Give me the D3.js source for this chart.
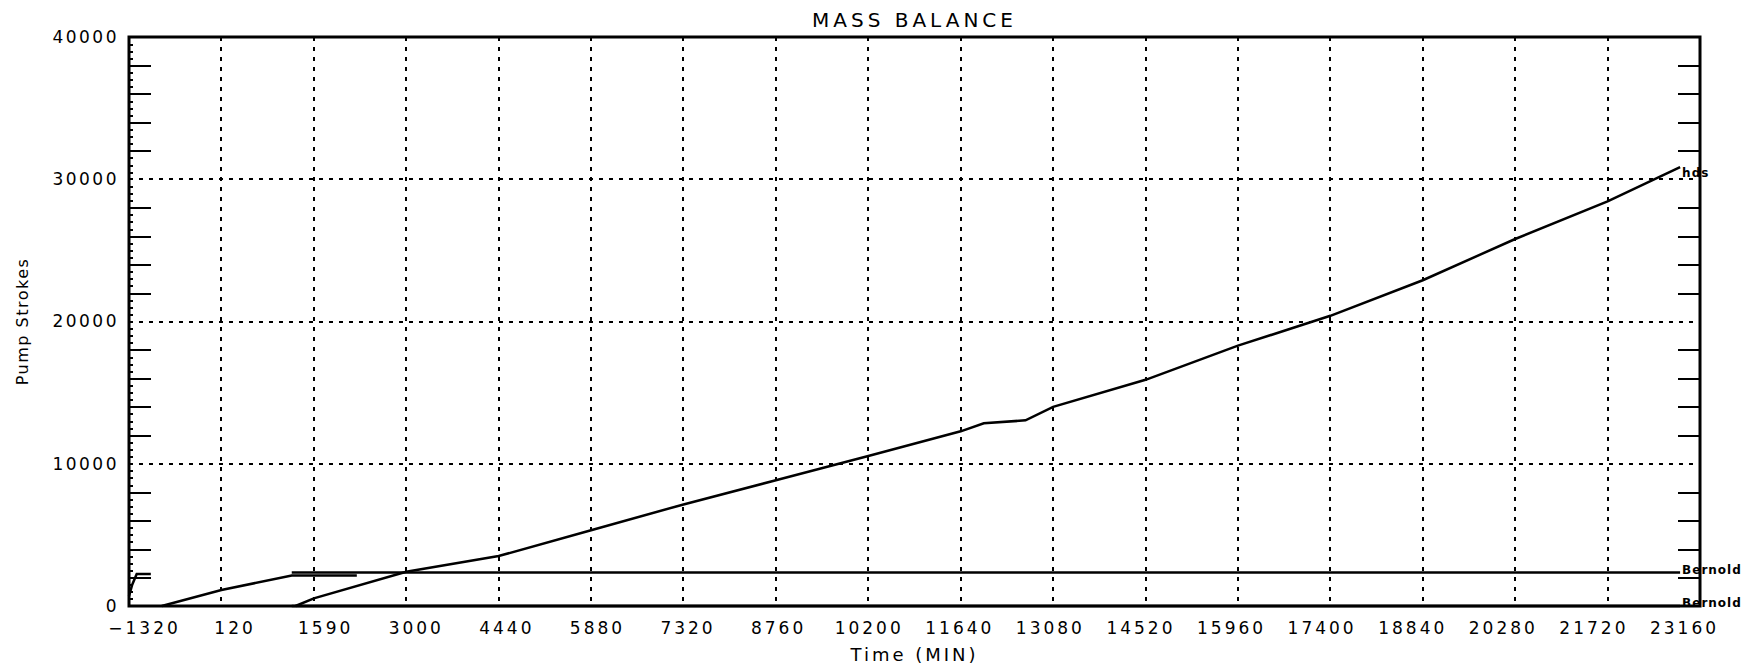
<!DOCTYPE html>
<html>
<head>
<meta charset="utf-8">
<script src="https://cdn.jsdelivr.net/npm/d3@7"></script>
<style>
  body { margin: 0; background: #fff; }
  text { font-family: "DejaVu Sans", sans-serif; fill: #000; }
</style>
</head>
<body>
<div id="chart"></div>
<script>
// x axis ticks (minutes) and their printed labels
var xTicks = [-1320, 120, 1560, 3000, 4440, 5880, 7320, 8760, 10200, 11640, 13080, 14520, 15960, 17400, 18840, 20280, 21720, 23160];
var xTickLabels = ["\u22121320", "120", "1590", "3000", "4440", "5880", "7320", "8760", "10200", "11640", "13080", "14520", "15960", "17400", "18840", "20280", "21720", "23160"];
var yTicks = [0, 10000, 20000, 30000, 40000];

// main pump stroke curve
var strokesTime = [1275, 1560, 3000, 4440, 5880, 7320, 8760, 10200, 11640, 12000, 12650, 13080, 14520, 15960, 17400, 18840, 20280, 21720, 22850];
var strokesValue = [0, 540, 2410, 3510, 5330, 7140, 8840, 10550, 12280, 12850, 13050, 14000, 15900, 18300, 20400, 22900, 25800, 28450, 30850];

// early curve that levels off
var earlyTime = [-810, 120, 1216, 2230];
var earlyValue = [0, 1120, 2150, 2150];

// short blip at the left edge
var blipTime = [-1320, -1270, -1200, -980];
var blipValue = [700, 1500, 2250, 2250];

// flat reference lines
var flatTime = [1216, 22850];
var flatUpper = [2350, 2350];
var flatLower = [0, 0];

var width = 1756, height = 668;
var svg = d3.select("#chart").append("svg")
    .attr("width", width)
    .attr("height", height);

var x = d3.scaleLinear().domain([-1320, 23160]).range([129, 1700]);
var y = d3.scaleLinear().domain([0, 40000]).range([606, 37]);
// labels under the x axis sit a little inside the end ticks
var xLabel = x.copy().range([129 + 15, 1700 - 16]);

// dotted grid
var gridX = xTicks.slice(1, -1);
svg.append("g").selectAll("line").data(gridX).join("line")
    .attr("x1", d => x(d)).attr("x2", d => x(d))
    .attr("y1", y(40000)).attr("y2", y(0))
    .attr("stroke", "#000").attr("stroke-width", 2)
    .attr("stroke-dasharray", "4,6")
    .attr("shape-rendering", "crispEdges");
svg.append("g").selectAll("line").data([10000, 20000, 30000]).join("line")
    .attr("x1", x(-1320)).attr("x2", x(23160))
    .attr("y1", d => y(d)).attr("y2", d => y(d))
    .attr("stroke", "#000").attr("stroke-width", 2)
    .attr("stroke-dasharray", "4,6")
    .attr("shape-rendering", "crispEdges");

// tick marks: long ones every 2000, short ones every 500
var majorY = d3.range(2000, 40000, 2000).filter(d => d % 10000 != 0);
var minorY = d3.range(500, 40000, 500).filter(d => d % 2000 != 0);

svg.append("g").attr("transform", "translate(" + x(-1320) + ",0)")
    .call(d3.axisRight(y).tickValues(majorY).tickSize(22).tickFormat(""))
    .call(g => g.select(".domain").remove());
svg.append("g").attr("transform", "translate(" + x(-1320) + ",0)")
    .call(d3.axisRight(y).tickValues(minorY).tickSize(4).tickFormat(""))
    .call(g => g.select(".domain").remove());
svg.append("g").attr("transform", "translate(" + x(23160) + ",0)")
    .call(d3.axisLeft(y).tickValues(majorY).tickSize(22).tickFormat(""))
    .call(g => g.select(".domain").remove());
svg.selectAll(".tick line").attr("stroke-width", 2).attr("shape-rendering", "crispEdges");

// y labels
var yAxis = svg.append("g").attr("transform", "translate(" + x(-1320) + ",0)")
    .call(d3.axisLeft(y).tickValues(yTicks).tickSize(0).tickPadding(10).tickFormat(d3.format("d")));
yAxis.select(".domain").remove();
yAxis.selectAll("text")
    .style("font-family", "DejaVu Sans")
    .style("font-size", "17px")
    .style("letter-spacing", "2.5px");

// x labels
var xAxis = svg.append("g").attr("transform", "translate(0," + y(0) + ")")
    .call(d3.axisBottom(xLabel).tickValues(xTicks).tickSize(0).tickPadding(16)
        .tickFormat((d, i) => xTickLabels[i]));
xAxis.select(".domain").remove();
xAxis.selectAll("text")
    .style("font-family", "DejaVu Sans")
    .style("font-size", "17px")
    .style("letter-spacing", "3px");

// frame
svg.append("rect")
    .attr("x", x(-1320)).attr("y", y(40000))
    .attr("width", x(23160) - x(-1320)).attr("height", y(0) - y(40000))
    .attr("fill", "none").attr("stroke", "#000").attr("stroke-width", 3);

// data lines
var line = d3.line().x(d => x(d[0])).y(d => y(d[1]));
function drawSeries(xs, ys) {
    svg.append("path")
        .datum(d3.zip(xs, ys))
        .attr("fill", "none")
        .attr("stroke", "#000")
        .attr("stroke-width", 2.5)
        .attr("d", line);
}
drawSeries(strokesTime, strokesValue);
drawSeries(earlyTime, earlyValue);
drawSeries(blipTime, blipValue);
drawSeries(flatTime, flatUpper);
drawSeries(flatTime, flatLower);

// end-of-line annotations
function endLabel(t, v, txt) {
    svg.append("text")
        .attr("x", x(t) + 2).attr("y", y(v) + 1)
        .style("font-size", "12px")
        .style("font-weight", "bold")
        .style("letter-spacing", "1px")
        .text(txt);
}
endLabel(strokesTime[strokesTime.length - 1], strokesValue[strokesValue.length - 1] - 600, "hds");
endLabel(flatTime[1], flatUpper[1], "Bernold");
endLabel(flatTime[1], flatLower[1], "Bernold");

// titles
svg.append("text")
    .attr("x", (x(-1320) + x(23160)) / 2).attr("y", 27)
    .attr("text-anchor", "middle")
    .style("font-size", "20px")
    .style("letter-spacing", "4px")
    .text("MASS BALANCE");

svg.append("text")
    .attr("x", (x(-1320) + x(23160)) / 2).attr("y", 661)
    .attr("text-anchor", "middle")
    .style("font-size", "18px")
    .style("letter-spacing", "3px")
    .text("Time (MIN)");

svg.append("text")
    .attr("transform", "translate(28," + y(20000) + ") rotate(-90)")
    .attr("text-anchor", "middle")
    .style("font-size", "16px")
    .style("letter-spacing", "1.5px")
    .text("Pump Strokes");
</script>
</body>
</html>
